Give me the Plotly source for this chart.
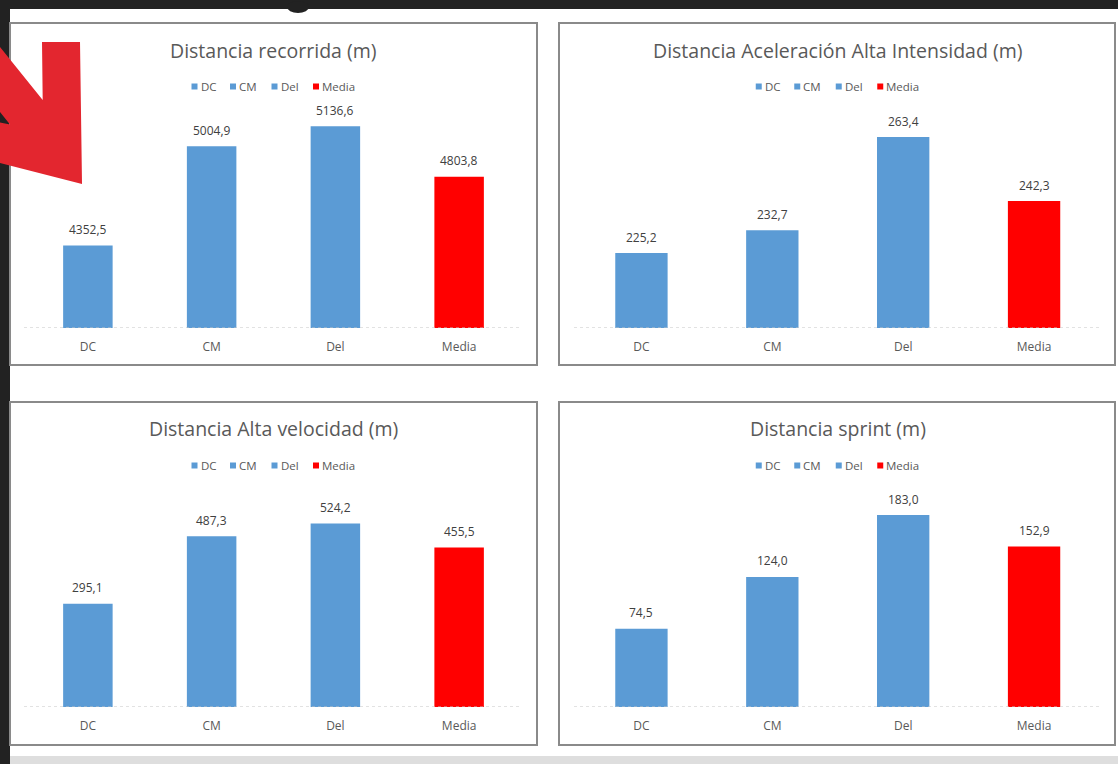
import plotly.graph_objects as go

# ---- data ---------------------------------------------------------------
categories = ["DC", "CM", "Del", "Media"]

titles = [
    "Distancia recorrida (m)",
    "Distancia Aceleración Alta Intensidad (m)",
    "Distancia Alta velocidad (m)",
    "Distancia sprint (m)",
]

distancia_recorrida = [4352.5, 5004.9, 5136.6, 4803.8]
aceleracion_alta_intensidad = [225.2, 232.7, 263.4, 242.3]
alta_velocidad = [295.1, 487.3, 524.2, 455.5]
sprint = [74.5, 124.0, 183.0, 152.9]

series = [distancia_recorrida, aceleracion_alta_intensidad, alta_velocidad, sprint]

# value axis ranges (hidden axes, as in the spreadsheet charts)
y_ranges = [[3810, 5243], [200.5, 272.3], [0, 622.4], [0, 207.8]]

# ---- styling ------------------------------------------------------------
W, H = 1118, 764
BLUE = "#5B9BD5"
RED = "#FF0000"
bar_colors = [BLUE, BLUE, BLUE, RED]
FONT = "Open Sans"
TITLE_COLOR = "#595959"
LABEL_COLOR = "#404040"
FRAME_COLOR = "#8a8a8a"


def px(x):
    return x / W


def py(y):
    return 1 - y / H


def fmt(v):
    return f"{v:.1f}".replace(".", ",")


# pixel geometry of the four chart boxes: frame, plot area, title row, legend row
panels = [
    dict(frame=(10, 23, 537, 365), px_x=(26, 521), px_y=(110, 328), title_y=50, legend_y=86.5),
    dict(frame=(559, 23, 1115, 365), px_x=(576, 1099.5), px_y=(110, 328), title_y=50, legend_y=86.5),
    dict(frame=(10, 402, 537, 745), px_x=(26, 521), px_y=(489, 707), title_y=428.5, legend_y=465.5),
    dict(frame=(559, 402, 1115, 745), px_x=(576, 1099.5), px_y=(489, 707), title_y=428.5, legend_y=465.5),
]
legend_offsets = [-79, -40.5, 1, 42.5]

fig = go.Figure()
shapes = []
annotations = []

# page decoration: dark window edges, bottom strip, highlight arrow
shapes.append(dict(type="rect", xref="paper", yref="paper", x0=0, x1=1, y0=py(9), y1=1,
                   fillcolor="#222222", line=dict(width=0), layer="below"))
shapes.append(dict(type="rect", xref="paper", yref="paper", x0=0, x1=px(10), y0=0, y1=1,
                   fillcolor="#222222", line=dict(width=0), layer="below"))
shapes.append(dict(type="rect", xref="paper", yref="paper", x0=px(10), x1=1, y0=0, y1=py(756),
                   fillcolor="#dedede", line=dict(width=0), layer="below"))
shapes.append(dict(type="circle", xref="paper", yref="paper", x0=px(287), x1=px(309), y0=py(13), y1=py(1),
                   fillcolor="#222222", line=dict(width=0), layer="below"))

arrow_pts = [(0, 47), (42.7, 100), (42, 42), (80, 42), (82, 184), (0, 163),
             (0, 122.4), (10, 124.4), (0, 112)]
arrow_path = "M " + " L ".join(f"{px(x):.5f},{py(y):.5f}" for x, y in arrow_pts) + " Z"
shapes.append(dict(type="path", xref="paper", yref="paper", path=arrow_path,
                   fillcolor="#E3262F", line=dict(width=0), layer="above"))

layout_axes = {}
for i, (vals, title, geo, yr) in enumerate(zip(series, titles, panels, y_ranges), start=1):
    xa = "x" if i == 1 else f"x{i}"
    ya = "y" if i == 1 else f"y{i}"
    xkey = "xaxis" if i == 1 else f"xaxis{i}"
    ykey = "yaxis" if i == 1 else f"yaxis{i}"

    fx0, fy0, fx1, fy1 = geo["frame"]
    shapes.append(dict(type="rect", xref="paper", yref="paper",
                       x0=px(fx0), x1=px(fx1), y0=py(fy1), y1=py(fy0),
                       fillcolor="white", line=dict(color=FRAME_COLOR, width=2), layer="below"))

    x0, x1 = geo["px_x"]
    top, base = geo["px_y"]
    layout_axes[xkey] = dict(domain=[px(x0), px(x1)], anchor=ya, type="category",
                             categoryorder="array", categoryarray=categories,
                             showline=False, showgrid=False, zeroline=False, ticks="",
                             tickfont=dict(family=FONT, size=12, color=TITLE_COLOR),
                             ticklabelstandoff=10, fixedrange=True)
    layout_axes[ykey] = dict(domain=[py(base), py(top)], anchor=xa, range=yr, visible=False,
                             showgrid=False, zeroline=False, fixedrange=True)

    fig.add_trace(go.Bar(x=categories, y=vals, marker=dict(color=bar_colors, line=dict(width=0)),
                         width=0.4, xaxis=xa, yaxis=ya, showlegend=False, hoverinfo="x+y"))

    # dotted category axis line
    pad = 2 / (x1 - x0)
    shapes.append(dict(type="line", xref=f"{xa} domain", yref=ya, x0=-pad, x1=1 + pad / 2,
                       y0=yr[0], y1=yr[0], line=dict(color="#c4c4c4", width=1, dash="dot")))

    # data labels
    for c, v in zip(categories, vals):
        annotations.append(dict(xref=xa, yref=ya, x=c, y=v, text=fmt(v), showarrow=False,
                                yanchor="middle", yshift=16,
                                font=dict(family=FONT, size=12, color=LABEL_COLOR)))

    # chart title
    cx = (x0 + x1) / 2
    annotations.append(dict(xref="paper", yref="paper", x=px(cx), y=py(geo["title_y"]),
                            text=title, showarrow=False, xanchor="center", yanchor="middle",
                            font=dict(family=FONT, size=19.5, color=TITLE_COLOR)))

    # legend row
    ly = geo["legend_y"]
    for off, c, col in zip(legend_offsets, categories, bar_colors):
        sx = cx + off
        shapes.append(dict(type="rect", xref="paper", yref="paper",
                           x0=px(sx - 3), x1=px(sx + 3), y0=py(ly + 3), y1=py(ly - 3),
                           fillcolor=col, line=dict(width=0)))
        annotations.append(dict(xref="paper", yref="paper", x=px(sx + 4), y=py(ly),
                                text=c, showarrow=False, xanchor="left", yanchor="middle",
                                font=dict(family=FONT, size=11.5, color=TITLE_COLOR)))

fig.update_layout(
    width=W, height=H,
    margin=dict(l=0, r=0, t=0, b=0),
    paper_bgcolor="white",
    plot_bgcolor="rgba(0,0,0,0)",
    barmode="overlay",
    shapes=shapes,
    annotations=annotations,
    **layout_axes,
)

fig.write_html("out.html", config={"displayModeBar": False})
